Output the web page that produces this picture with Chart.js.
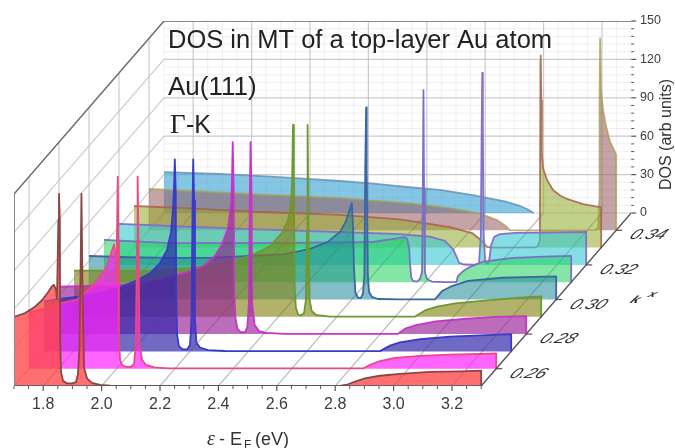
<!DOCTYPE html>
<html>
<head>
<meta charset="utf-8">
<title>DOS in MT of a top-layer Au atom</title>
<script src="https://cdn.jsdelivr.net/npm/chart.js@4/dist/chart.umd.min.js"></script>
<style>
  html, body { margin: 0; padding: 0; background: #fff; }
  canvas { display: block; filter: blur(0.6px); }
</style>
</head>
<body>
<canvas id="chart" width="675" height="448"></canvas>
<script>
// k values, front to back
const kValues = [0.25, 0.26, 0.27, 0.28, 0.29, 0.30, 0.31, 0.32, 0.33, 0.34, 0.35];

// Energy (eV) and DOS, one pair per k
const energy025 = [1.70, 1.738, 1.772, 1.796, 1.816, 1.83, 1.837, 1.844, 1.847, 1.849, 1.852, 1.854, 1.857, 1.858, 1.861, 1.868, 1.882, 1.899, 1.912, 1.919, 1.924, 1.928, 1.931, 1.935, 1.94, 1.95, 1.967, 1.995, 2.03, 2.816, 2.84, 2.868, 2.902, 2.953, 3.022, 3.125, 3.227, 3.30, 3.30];
const dos025 = [54, 57, 62, 67, 73, 78, 79, 75, 68, 90, 130, 150, 130, 36, 11, 4, 2, 2, 3, 9, 30, 90, 150, 70, 14, 6, 2.5, 0.8, 0.3, 0.1, 1, 3.5, 6, 8, 9.5, 11, 11.5, 12, 0];

const energy026 = [1.70, 1.755, 1.806, 1.864, 1.919, 1.943, 1.967, 1.981, 1.991, 1.996, 2.0, 2.001, 2.004, 2.006, 2.008, 2.012, 2.018, 2.032, 2.049, 2.06, 2.066, 2.07, 2.072, 2.075, 2.078, 2.087, 2.10, 2.13, 2.18, 2.844, 2.868, 2.902, 2.953, 3.04, 3.14, 3.245, 3.30, 3.30];
const dos026 = [44, 47, 51, 54, 65, 72, 80, 90, 97, 89, 69, 100, 150, 100, 22, 7, 3, 1.5, 1.5, 4, 20, 100, 150, 100, 20, 7, 3, 1, 0.3, 0.2, 3, 6, 8.5, 10, 11, 11.5, 12, 0];

const energy027 = [1.70, 1.755, 1.823, 1.892, 1.96, 2.012, 2.063, 2.097, 2.121, 2.135, 2.141, 2.145, 2.148, 2.151, 2.153, 2.156, 2.162, 2.176, 2.19, 2.2, 2.205, 2.209, 2.211, 2.214, 2.217, 2.222, 2.234, 2.262, 2.32, 2.851, 2.885, 2.919, 2.988, 3.09, 3.194, 3.30, 3.30];
const dos027 = [39, 41, 43, 46, 50, 55, 61, 69, 79, 93, 109, 126, 150, 126, 40, 13, 4, 1.5, 1.5, 5, 25, 118, 150, 118, 25, 7, 3, 1, 0.3, 0.2, 4.5, 7, 9.5, 11.5, 12.5, 13.5, 0];

const energy028 = [1.70, 1.772, 1.875, 1.967, 2.046, 2.138, 2.193, 2.234, 2.258, 2.279, 2.289, 2.292, 2.295, 2.298, 2.30, 2.304, 2.311, 2.323, 2.337, 2.345, 2.35, 2.354, 2.356, 2.359, 2.362, 2.37, 2.385, 2.409, 2.474, 2.861, 2.888, 2.923, 2.991, 3.094, 3.197, 3.30, 3.30];
const dos028 = [37, 37.5, 38, 39, 43, 48.5, 53, 61, 70, 83, 101, 116, 150, 116, 34, 13, 4, 1.6, 1.6, 5.5, 23, 113, 150, 113, 23, 7, 2.4, 0.9, 0.2, 0.2, 4.5, 7, 10, 12, 13.5, 14, 0];

const energy029 = [1.70, 1.823, 1.96, 2.097, 2.217, 2.303, 2.371, 2.412, 2.433, 2.443, 2.447, 2.45, 2.453, 2.456, 2.46, 2.467, 2.477, 2.488, 2.494, 2.498, 2.50, 2.503, 2.507, 2.514, 2.529, 2.577, 2.868, 2.902, 2.943, 3.005, 3.125, 3.227, 3.30, 3.30];
const dos029 = [36, 36, 36, 38, 42, 47.5, 55, 65.5, 75.6, 87, 107, 150, 107, 21, 7, 2, 1, 3, 13, 68, 150, 68, 13, 4.5, 1.4, 0.2, 0.2, 5, 8, 10.5, 13, 15, 16, 0];

const energy030 = [1.70, 1.84, 1.977, 2.114, 2.251, 2.371, 2.457, 2.518, 2.56, 2.58, 2.594, 2.60, 2.604, 2.607, 2.612, 2.621, 2.631, 2.638, 2.643, 2.646, 2.649, 2.651, 2.655, 2.659, 2.669, 2.69, 2.765, 2.885, 2.909, 2.943, 2.998, 3.114, 3.227, 3.30, 3.30];
const dos030 = [34, 33, 32.5, 32.5, 34, 35.5, 39.5, 45, 53, 61, 71, 75.4, 58, 27, 6, 1.2, 1.2, 4.3, 19, 101, 150, 101, 19, 6, 2, 0.4, 0.1, 0.1, 6.6, 10.5, 14.5, 17, 17.6, 18, 0];

const energy031 = [1.70, 1.926, 2.2, 2.491, 2.621, 2.697, 2.727, 2.738, 2.745, 2.748, 2.752, 2.758, 2.772, 2.782, 2.789, 2.792, 2.794, 2.796, 2.799, 2.806, 2.823, 2.868, 2.907, 2.912, 2.93, 2.954, 2.998, 3.101, 3.21, 3.30, 3.30];
const dos031 = [33, 30.6, 30.6, 31, 31.4, 34, 35.3, 33.8, 26.7, 15, 4, 1, 0.5, 2.5, 8, 72, 150, 72, 8, 2.5, 0.5, 0.1, 0.1, 4.8, 8.7, 12, 16, 19, 20, 20.5, 0];

const energy032 = [1.70, 1.875, 2.149, 2.457, 2.662, 2.765, 2.816, 2.844, 2.858, 2.865, 2.882, 2.919, 2.933, 2.939, 2.942, 2.944, 2.946, 2.949, 2.954, 2.964, 2.969, 2.974, 2.985, 3.005, 3.057, 3.176, 3.30, 3.30];
const dos032 = [32, 30.4, 28, 25.7, 24, 22, 18.7, 12.4, 5.4, 1.5, 0.3, 0.1, 1.5, 23, 105, 150, 105, 23, 2.3, 0.7, 5.4, 15, 22, 24, 25, 25.3, 25.7, 0];

const energy033 = [1.70, 1.858, 2.132, 2.405, 2.611, 2.782, 2.858, 2.892, 2.909, 2.926, 3.073, 3.083, 3.09, 3.092, 3.093, 3.095, 3.097, 3.101, 3.114, 3.135, 3.159, 3.183, 3.238, 3.296, 3.30, 3.30];
const dos033 = [32.5, 31, 27.8, 25.5, 22, 16, 11.4, 5.2, 0.5, 0, 0.1, 1.2, 6, 146, 150, 115, 72, 62, 53, 45, 40.7, 38, 34, 31.7, 31.3, 0];

const energy034 = [1.70, 1.875, 2.114, 2.354, 2.584, 2.73, 2.834, 2.892, 2.919, 2.936, 2.97, 3.227, 3.238, 3.242, 3.243, 3.245, 3.248, 3.255, 3.265, 3.279, 3.293, 3.30, 3.30];
const dos034 = [32.3, 30.3, 27.6, 25.2, 21.3, 17.4, 13, 8, 3.8, 0.2, 0, 0.1, 1.8, 23.7, 102, 150, 110, 94, 81.5, 69, 62.7, 58.8, 0];

const energy035 = [1.70, 1.892, 2.097, 2.303, 2.416, 2.532, 2.645, 2.758, 2.875, 2.919, 2.943, 2.96, 2.967];
const dos035 = [32, 30.5, 28, 25, 23, 20.3, 18, 14, 8.6, 5.5, 3.1, 0.8, 0];

const seriesEnergy = [energy025, energy026, energy027, energy028, energy029, energy030, energy031, energy032, energy033, energy034, energy035];
const seriesDos = [dos025, dos026, dos027, dos028, dos029, dos030, dos031, dos032, dos033, dos034, dos035];

// Fill and outline per k
const fillColors = [
  'rgba(255,70,70,0.78)', 'rgba(255,40,255,0.72)', 'rgba(45,35,170,0.68)', 'rgba(150,30,150,0.65)',
  'rgba(130,130,20,0.62)', 'rgba(30,135,150,0.55)', 'rgba(30,210,90,0.55)', 'rgba(50,200,210,0.6)',
  'rgba(145,170,40,0.55)', 'rgba(150,90,95,0.55)', 'rgba(50,160,210,0.6)'
];
const lineColors = [
  '#8a4646', '#ea4a80', '#3a3ac8', '#c833c8', '#6a9a30', '#3f64a4', '#7a70c4', '#8a70c4',
  'rgba(168,96,74,0.85)', 'rgba(168,160,88,0.8)', 'rgba(106,144,180,0.85)'
];

// Axis ticks
const energyTicks = [1.8, 2.0, 2.2, 2.4, 2.6, 2.8, 3.0, 3.2];
const energyMinorTicks = [1.7, 1.75, 1.85, 1.9, 1.95, 2.05, 2.1, 2.15, 2.25, 2.3, 2.35, 2.45, 2.5, 2.55, 2.65, 2.7, 2.75, 2.85, 2.9, 2.95, 3.05, 3.1, 3.15, 3.25, 3.3];
const dosTicks = [0, 30, 60, 90, 120, 150];
const dosMinorTicks = [6, 12, 18, 24, 36, 42, 48, 54, 66, 72, 78, 84, 96, 102, 108, 114, 126, 132, 138, 144];
const kTicks = [0.26, 0.28, 0.30, 0.32, 0.34];

// Oblique projection: the floor runs 150 px right and 173 px up from k=0.25 to k=0.35
const kMin = 0.25;
const kMax = 0.35;
const pxPerEv = 292;
const pxPerDos = 1.28;
const shearX = 150 / pxPerEv / (kMax - kMin);
const shearY = 173 / pxPerDos / (kMax - kMin);
const xMax = 1.7 + 617 / pxPerEv;
const yMin = -173 / pxPerDos;

function project(energy, dos, k) {
  return { x: energy + (k - kMin) * shearX, y: dos - (kMax - k) * shearY };
}

function frameLine(points, color, width, order) {
  return {
    type: 'line', data: points, borderColor: color, borderWidth: width,
    pointRadius: 0, fill: false, tension: 0, order: order
  };
}

const datasets = [];

// Walls and floor grid
const gridMajor = 'rgba(185,185,185,0.75)';
const gridMinor = 'rgba(205,205,205,0.3)';
energyMinorTicks.forEach(e => {
  datasets.push(frameLine([project(e, 0, kMax), project(e, 150, kMax)], gridMinor, 1, 110));
});
dosMinorTicks.forEach(d => {
  datasets.push(frameLine([project(1.7, d, kMax), project(3.3, d, kMax)], gridMinor, 1, 110));
});
energyTicks.forEach(e => {
  datasets.push(frameLine([project(e, 0, kMax), project(e, 150, kMax)], gridMajor, 1.2, 100));
  datasets.push(frameLine([project(e, 0, kMin), project(e, 0, kMax)], gridMajor, 1.2, 100));
  // the floor lines show faintly through the fills
  datasets.push(frameLine([project(e, 0, kMin), project(e, 0, kMax)], 'rgba(110,110,110,0.22)', 1, 0));
});
dosTicks.forEach(d => {
  datasets.push(frameLine([project(1.7, d, kMax), project(3.3, d, kMax)], gridMajor, 1.2, 100));
  datasets.push(frameLine([project(1.7, d, kMin), project(1.7, d, kMax)], gridMajor, 1.2, 100));
});
kTicks.forEach(k => {
  datasets.push(frameLine([project(1.7, 0, k), project(1.7, 150, k)], gridMajor, 1.2, 100));
});

// The DOS curves, back to front
kValues.forEach((k, i) => {
  const base = project(0, 0, k).y;
  datasets.push({
    type: 'line',
    data: seriesEnergy[i].map((e, j) => project(e, seriesDos[i][j], k)),
    borderColor: lineColors[i],
    backgroundColor: fillColors[i],
    borderWidth: 1.8,
    borderJoinStyle: 'round',
    pointRadius: 0,
    tension: 0,
    fill: { value: base },
    order: i + 1
  });
});

// Box edges
const edgeColor = '#6e6e6e';
datasets.push(frameLine([project(1.7, 150, kMin), project(1.7, 150, kMax), project(3.3, 150, kMax), project(3.3, 0, kMax)], edgeColor, 1.4, 60));
datasets.push(frameLine([project(1.7, 0, kMin), project(1.7, 150, kMin)], '#8a8a8a', 2, 0));
datasets.push(frameLine([project(1.7, 0, kMin), project(3.3, 0, kMin), project(3.3, 0, kMax)], '#555', 1.4, 0));

// Tick marks, k labels and the text the axes do not carry
const annotations = {
  id: 'annotations',
  afterDraw(chart) {
    const ctx = chart.ctx;
    const sx = chart.scales.x;
    const sy = chart.scales.y;
    const px = (e, d, k) => {
      const p = project(e, d, k);
      return [sx.getPixelForValue(p.x), sy.getPixelForValue(p.y)];
    };
    const tick = (x0, y0, x1, y1, w) => {
      ctx.lineWidth = w;
      ctx.beginPath();
      ctx.moveTo(x0, y0);
      ctx.lineTo(x1, y1);
      ctx.stroke();
    };
    ctx.save();
    ctx.strokeStyle = '#555';
    energyTicks.forEach(e => {
      const [x, y] = px(e, 0, kMin);
      tick(x, y, x, y + 5, 1.2);
    });
    energyMinorTicks.forEach(e => {
      const [x, y] = px(e, 0, kMin);
      tick(x, y, x, y + 3, 1);
    });
    dosTicks.forEach(d => {
      const [x, y] = px(3.3, d, kMax);
      tick(x, y, x + 5, y, 1.2);
    });
    dosMinorTicks.forEach(d => {
      const [x, y] = px(3.3, d, kMax);
      tick(x, y, x + 3, y, 1);
    });

    ctx.fillStyle = '#333';
    ctx.textBaseline = 'alphabetic';
    kTicks.forEach(k => {
      const [x, y] = px(3.3, 0, k);
      tick(x, y, x + 6, y, 1.2);
      ctx.save();
      ctx.translate(x + 12, y + 9);
      ctx.transform(1, 0, -0.55, 0.8, 0, 0);
      ctx.font = 'italic 18px "Liberation Sans"';
      ctx.textAlign = 'left';
      ctx.fillText(k.toFixed(2), 0, 0);
      ctx.restore();
    });
    ctx.save();
    ctx.translate(629, 303);
    ctx.transform(1, 0, -0.55, 0.7, 0, 0);
    ctx.font = 'italic bold 15px "Liberation Sans"';
    ctx.fillText('k', 0, 0);
    ctx.font = 'italic bold 13px "Liberation Sans"';
    ctx.fillText('x', 13, -9);
    ctx.restore();

    // Titles on the back wall
    ctx.fillStyle = '#222';
    ctx.textAlign = 'left';
    ctx.font = '25.5px "Liberation Sans"';
    ctx.fillText('DOS in MT of a top-layer Au atom', 168, 48);
    ctx.font = '26px "Liberation Sans"';
    ctx.fillText('Au(111)', 168, 95);
    ctx.font = '27px "Liberation Serif"';
    ctx.fillText('Γ', 170, 133);
    ctx.font = '25px "Liberation Sans"';
    ctx.fillText('-K', 186, 133);

    // Axis titles
    ctx.fillStyle = '#333';
    ctx.font = 'italic 20px "Liberation Serif"';
    ctx.fillText('ε', 207, 445);
    ctx.font = '18px "Liberation Sans"';
    ctx.fillText('- E', 219, 445);
    ctx.font = '12px "Liberation Sans"';
    ctx.fillText('F', 244, 449);
    ctx.font = '18px "Liberation Sans"';
    ctx.fillText('(eV)', 255, 445);
    ctx.save();
    ctx.translate(671, 190);
    ctx.rotate(-Math.PI / 2);
    ctx.font = '16px "Liberation Sans"';
    ctx.fillText('DOS (arb units)', 0, 0);
    ctx.restore();
    ctx.restore();
  }
};

new Chart(document.getElementById('chart'), {
  type: 'line',
  data: { datasets: datasets },
  plugins: [annotations],
  options: {
    responsive: false,
    animation: false,
    parsing: false,
    normalized: true,
    layout: { padding: { left: 14, top: 21, right: 0, bottom: 0 } },
    plugins: { legend: { display: false }, tooltip: { enabled: false }, title: { display: false } },
    scales: {
      x: {
        type: 'linear',
        position: 'bottom',
        min: 1.7,
        max: xMax,
        grid: { display: false, drawTicks: false },
        border: { display: false },
        afterBuildTicks: scale => { scale.ticks = energyTicks.map(v => ({ value: v })); },
        afterFit: scale => { scale.height = 62; },
        ticks: {
          autoSkip: false,
          maxRotation: 0,
          padding: 9,
          color: '#3c3c3c',
          font: { family: '"Liberation Sans"', size: 16 },
          callback: v => v.toFixed(1)
        }
      },
      y: {
        type: 'linear',
        position: 'right',
        min: yMin,
        max: 150,
        grid: { display: false, drawTicks: false },
        border: { display: false },
        afterBuildTicks: scale => { scale.ticks = dosTicks.map(v => ({ value: v })); },
        afterFit: scale => { scale.width = 44; },
        ticks: {
          autoSkip: false,
          padding: 9,
          color: '#3c3c3c',
          font: { family: '"Liberation Sans"', size: 12.5 },
          callback: v => String(v)
        }
      }
    }
  }
});
</script>
</body>
</html>
